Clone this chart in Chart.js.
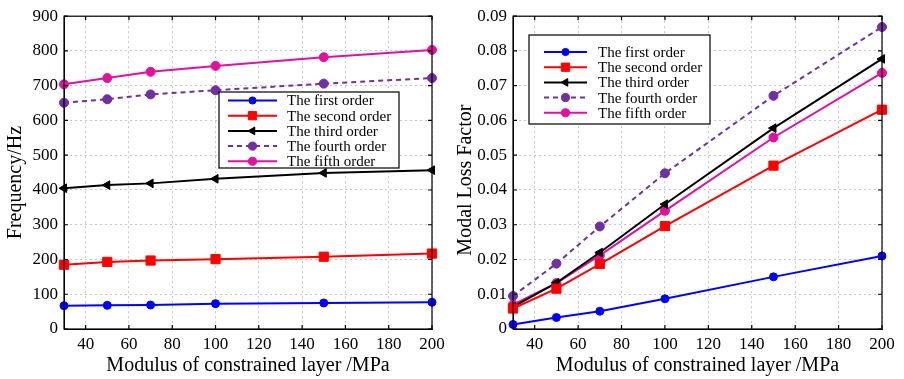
<!DOCTYPE html>
<html>
<head>
<meta charset="utf-8">
<script src="https://cdn.jsdelivr.net/npm/chart.js@4/dist/chart.umd.min.js"></script>
<style>
  body { margin: 0; background: #fff; width: 904px; height: 379px; overflow: hidden; }
  .wrap { position: absolute; top: 0; }
</style>
</head>
<body>
<div class="wrap" style="left:0"><canvas id="freqChart" width="450" height="379"></canvas></div>
<div class="wrap" style="left:450px"><canvas id="lossChart" width="454" height="379"></canvas></div>
<script>
// data
const modulus = [30, 50, 70, 100, 150, 200];
const xTicks = [40, 60, 80, 100, 120, 140, 160, 180, 200];
const freqTicks = [0, 100, 200, 300, 400, 500, 600, 700, 800, 900];
const lossTicks = [0, 0.01, 0.02, 0.03, 0.04, 0.05, 0.06, 0.07, 0.08, 0.09];
const orderNames = ['The first order', 'The second order', 'The third order', 'The fourth order', 'The fifth order'];

const freq1 = [67, 68, 69, 73, 75, 77];
const freq2 = [185, 193, 197, 201, 208, 217];
const freq3 = [405, 414, 419, 432, 449, 457];
const freq4 = [651, 661, 675, 687, 706, 722];
const freq5 = [704, 722, 740, 757, 782, 803];

const loss1 = [0.0013, 0.0033, 0.0051, 0.0087, 0.0150, 0.0210];
const loss2 = [0.0059, 0.0116, 0.0187, 0.0296, 0.0470, 0.0631];
const loss3 = [0.0064, 0.0133, 0.0220, 0.0359, 0.0578, 0.0777];
const loss4 = [0.0095, 0.0188, 0.0295, 0.0448, 0.0671, 0.0869];
const loss5 = [0.0070, 0.0132, 0.0212, 0.0340, 0.0551, 0.0737];

const SERIF = '"Liberation Serif", "Times New Roman", serif';

// line / marker look per order
const orderStyles = [
  { color: '#0000ff', pointStyle: 'circle', radius: 4, rotation: 0, dash: [] },
  { color: '#ff0000', pointStyle: 'rect', radius: 6.5, rotation: 0, dash: [] },
  { color: '#000000', pointStyle: 'triangle', radius: 5, rotation: -90, dash: [] },
  { color: '#7030a0', pointStyle: 'circle', radius: 4.5, rotation: 0, dash: [5, 4] },
  { color: '#e0119d', pointStyle: 'circle', radius: 4.5, rotation: 0, dash: [] }
];

function buildDatasets(series) {
  return series.map((vals, i) => {
    const st = orderStyles[i];
    return {
      label: orderNames[i],
      data: modulus.map((x, k) => ({ x: x, y: vals[k] })),
      borderColor: st.color,
      backgroundColor: st.color,
      pointBackgroundColor: st.color,
      pointBorderColor: st.color,
      pointStyle: st.pointStyle,
      pointRadius: st.radius,
      pointRotation: st.rotation,
      pointBorderWidth: 1,
      borderDash: st.dash,
      borderWidth: 2,
      tension: 0,
      clip: false
    };
  });
}

// box round the plot plus small inward ticks
const frame = {
  id: 'frame',
  afterDatasetsDraw(chart) {
    const { ctx, chartArea: a, scales } = chart;
    ctx.save();
    ctx.strokeStyle = '#000';
    ctx.lineWidth = 1.2;
    ctx.strokeRect(a.left, a.top, a.right - a.left, a.bottom - a.top);
    ctx.beginPath();
    scales.x.ticks.forEach(t => {
      const px = scales.x.getPixelForValue(t.value);
      ctx.moveTo(px, a.bottom); ctx.lineTo(px, a.bottom - 4);
      ctx.moveTo(px, a.top); ctx.lineTo(px, a.top + 4);
    });
    scales.y.ticks.forEach(t => {
      const py = scales.y.getPixelForValue(t.value);
      ctx.moveTo(a.left, py); ctx.lineTo(a.left + 4, py);
      ctx.moveTo(a.right, py); ctx.lineTo(a.right - 4, py);
    });
    ctx.stroke();
    ctx.restore();
  }
};

// legend drawn inside the plot with a white box
const boxLegend = {
  id: 'boxLegend',
  afterDraw(chart, args, o) {
    const ctx = chart.ctx;
    ctx.save();
    ctx.fillStyle = '#fff';
    ctx.fillRect(o.x, o.y, o.w, o.h);
    ctx.strokeStyle = '#000';
    ctx.lineWidth = 1.2;
    ctx.strokeRect(o.x, o.y, o.w, o.h);
    chart.data.datasets.forEach((ds, i) => {
      const y = o.y + o.first + i * o.gap;
      ctx.strokeStyle = ds.borderColor;
      ctx.lineWidth = 2;
      ctx.setLineDash(ds.borderDash || []);
      ctx.beginPath();
      ctx.moveTo(o.x + o.line0, y);
      ctx.lineTo(o.x + o.line1, y);
      ctx.stroke();
      ctx.setLineDash([]);
      ctx.fillStyle = ds.pointBackgroundColor;
      ctx.strokeStyle = ds.pointBorderColor;
      ctx.lineWidth = 1;
      Chart.helpers.drawPoint(ctx, {
        pointStyle: ds.pointStyle,
        radius: ds.pointRadius * 0.9,
        rotation: ds.pointRotation,
        borderWidth: 1
      }, o.x + (o.line0 + o.line1) / 2, y);
      ctx.fillStyle = '#000';
      ctx.font = '15px ' + SERIF;
      ctx.textBaseline = 'middle';
      ctx.fillText(ds.label, o.x + o.text, y + 1);
    });
    ctx.restore();
  }
};

function buildScales(yTicks, yMax, yTitle, yWidth, fmt) {
  const tickFont = { family: SERIF, size: 17 };
  const titleFont = { family: SERIF, size: 20 };
  const grid = { color: '#c8c8c8', lineWidth: 1, drawTicks: false };
  const border = { color: '#000', width: 1, dash: [2, 3] };
  return {
    x: {
      type: 'linear',
      min: 30,
      max: 200,
      afterBuildTicks: s => { s.ticks = xTicks.map(v => ({ value: v })); },
      afterFit: s => { s.height = 50; },
      grid: grid,
      border: border,
      ticks: { color: '#000', font: tickFont, padding: 5, maxRotation: 0 },
      title: { display: true, text: 'Modulus of constrained layer /MPa', color: '#000', font: titleFont, padding: { top: 0, bottom: 1 } }
    },
    y: {
      type: 'linear',
      min: 0,
      max: yMax,
      afterBuildTicks: s => { s.ticks = yTicks.map(v => ({ value: v })); },
      afterFit: s => { s.width = yWidth; },
      grid: grid,
      border: border,
      ticks: { color: '#000', font: tickFont, padding: 6, callback: fmt },
      title: { display: true, text: yTitle, color: '#000', font: titleFont, padding: { top: 4, bottom: 0 } }
    }
  };
}

new Chart(document.getElementById('freqChart'), {
  type: 'line',
  data: { datasets: buildDatasets([freq1, freq2, freq3, freq4, freq5]) },
  options: {
    responsive: false,
    animation: false,
    layout: { padding: { top: 15, right: 18, left: 0, bottom: 0 } },
    plugins: {
      legend: { display: false },
      tooltip: { enabled: false },
      boxLegend: { x: 219, y: 92, w: 180, h: 76, first: 8.5, gap: 15.2, line0: 9, line1: 58, text: 68 }
    },
    scales: buildScales(freqTicks, 900, 'Frequency/Hz    ', 64, v => String(v))
  },
  plugins: [frame, boxLegend]
});

new Chart(document.getElementById('lossChart'), {
  type: 'line',
  data: { datasets: buildDatasets([loss1, loss2, loss3, loss4, loss5]) },
  options: {
    responsive: false,
    animation: false,
    layout: { padding: { top: 15, right: 22, left: 0, bottom: 0 } },
    plugins: {
      legend: { display: false },
      tooltip: { enabled: false },
      boxLegend: { x: 79, y: 35, w: 181, h: 89, first: 17, gap: 15.2, line0: 15, line1: 58, text: 69 }
    },
    scales: buildScales(lossTicks, 0.09, 'Modal Loss Factor   ', 63, v => v === 0 ? '0' : v.toFixed(2))
  },
  plugins: [frame, boxLegend]
});
</script>
</body>
</html>
